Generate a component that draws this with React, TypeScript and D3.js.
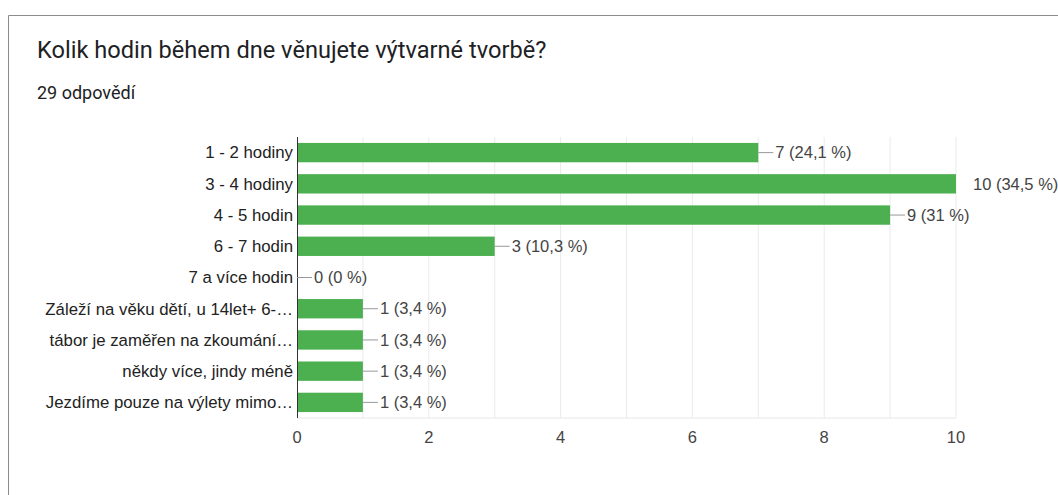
import React from "react";
import { scaleBand, scaleLinear, range } from "d3";

const categories = [
  "1 - 2 hodiny",
  "3 - 4 hodiny",
  "4 - 5 hodin",
  "6 - 7 hodin",
  "7 a více hodin",
  "Záleží na věku dětí, u 14let+ 6-…",
  "tábor je zaměřen na zkoumání…",
  "někdy více, jindy méně",
  "Jezdíme pouze na výlety mimo…",
];
const counts = [7, 10, 9, 3, 0, 1, 1, 1, 1];
const total = 29;
const xTicks = [0, 2, 4, 6, 8, 10];

const width = 1058;
const height = 495;
const margin = { top: 137, left: 297, right: 102, bottom: 77 };
const innerWidth = width - margin.left - margin.right;
const innerHeight = height - margin.top - margin.bottom;

const labelFont = "'Liberation Sans', Arial, sans-serif";

const pct = (v: number) =>
  String(Math.round((v / total) * 1000) / 10).replace(".", ",") + " %";

export default function App() {
  const x = scaleLinear().domain([0, 10]).range([0, innerWidth]);
  const y = scaleBand<string>()
    .domain(categories)
    .range([0, innerHeight])
    .paddingInner(0.38)
    .paddingOuter(0.19);
  const maxVal = Math.max(...counts);

  return (
    <svg
      width={width}
      height={height}
      style={{ position: "absolute", left: 0, top: 0, background: "#fff" }}
    >
      {/* card border */}
      <path d={`M8.5,${height} V15.5 H${width}`} fill="none" stroke="#8c8c8c" />

      <text
        x={37}
        y={58}
        fontFamily="Roboto, 'Open Sans', sans-serif"
        fontSize={23.6}
        fill="#202124"
      >
        Kolik hodin během dne věnujete výtvarné tvorbě?
      </text>
      <text
        x={37}
        y={99}
        fontFamily="Roboto, 'Open Sans', sans-serif"
        fontSize={18}
        fill="#202124"
      >
        29 odpovědí
      </text>

      <g transform={`translate(${margin.left}, ${margin.top})`}>
        {range(1, 11).map((t) => (
          <line
            key={t}
            x1={x(t)}
            x2={x(t)}
            y1={0}
            y2={innerHeight}
            stroke="#ebebeb"
          />
        ))}
        <line x1={0} x2={x(10)} y1={innerHeight} y2={innerHeight} stroke="#e6e6e6" />

        {categories.map((c, i) => (
          <rect
            key={c}
            x={0}
            y={y(c)}
            width={x(counts[i])}
            height={y.bandwidth()}
            fill="#4caf50"
          />
        ))}

        <line x1={0.5} x2={0.5} y1={0} y2={innerHeight} stroke="#333" />

        {categories.map((c) => (
          <text
            key={c}
            x={-4}
            y={(y(c) ?? 0) + y.bandwidth() / 2}
            dy="0.35em"
            textAnchor="end"
            fontFamily={labelFont}
            fontSize={16.8}
            fill="#222"
          >
            {c}
          </text>
        ))}

        {categories.map((c, i) => {
          const xe = x(counts[i]);
          const cy = (y(c) ?? 0) + y.bandwidth() / 2;
          return (
            <g key={c}>
              {counts[i] !== maxVal && (
                <line x1={xe} x2={xe + 15} y1={cy} y2={cy} stroke="#999" />
              )}
              <text
                x={xe + 17}
                y={cy}
                dy="0.35em"
                fontFamily={labelFont}
                fontSize={16.5}
                fill="#444"
              >
                {`${counts[i]} (${pct(counts[i])})`}
              </text>
            </g>
          );
        })}

        {xTicks.map((t) => (
          <text
            key={t}
            x={x(t)}
            y={innerHeight + 19}
            dy="0.35em"
            textAnchor="middle"
            fontFamily={labelFont}
            fontSize={16.5}
            fill="#444"
          >
            {t}
          </text>
        ))}
      </g>
    </svg>
  );
}
